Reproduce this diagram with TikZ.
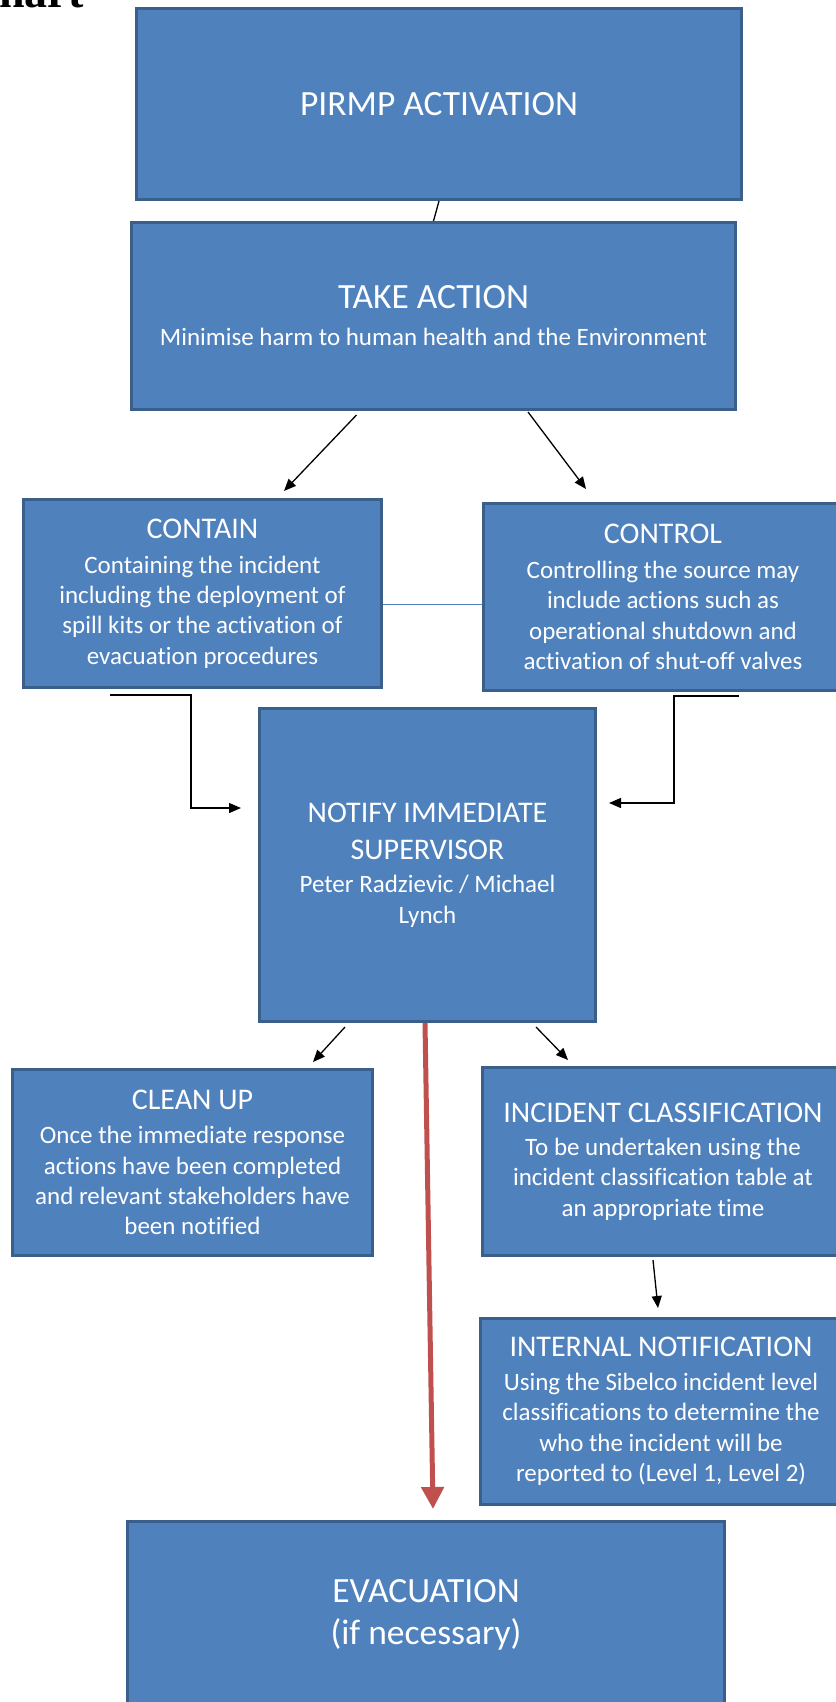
\documentclass[tikz,border=0pt]{standalone}
\usepackage{fontspec}
\setmainfont{Carlito}[Ligatures=NoCommon]
\newfontfamily\headfont{Liberation Serif}
\usepackage{xcolor}
\usetikzlibrary{arrows.meta,positioning}

\definecolor{boxfill}{HTML}{4F81BD}
\definecolor{boxline}{HTML}{3A5F8B}
\definecolor{evacred}{HTML}{C0504D}

\newcommand{\stagetitle}[1]{{\fontsize{30}{36}\selectfont #1}}
\newcommand{\bigtitle}[1]{{\fontsize{35.5}{40}\selectfont #1}}

\tikzset{
  stage/.style={draw=boxline, fill=boxfill, line width=3pt, text=white, align=center,
    inner sep=0pt, font=\fontsize{25}{30.4}\selectfont},
  flow/.style={-{Triangle[length=12pt,width=10pt]}, line width=1.3pt, black},
  redflow/.style={-{Triangle[length=22pt,width=22pt]}, line width=5pt, evacred},
  linkline/.style={line width=1.3pt, boxfill},
}

\begin{document}
\begin{tikzpicture}[x=1pt,y=-1pt]
  \useasboundingbox (0,0) rectangle (835,1702);

  % heading fragment at the top edge
  \node[anchor=base west, inner sep=0pt, font=\headfont\bfseries\fontsize{46}{46}\selectfont] (heading) at (-1,8) {hart};

  % Boxes
  \node[stage, minimum width=605pt, minimum height=191pt] (act) at (439,104) {\bigtitle{PIRMP ACTIVATION}};
  \node[stage, minimum width=604pt, minimum height=187pt] (take) at (433.5,316)
    {\bigtitle{TAKE ACTION}\\[6.6pt] Minimise harm to human health and the Environment};

  \node[stage, minimum width=358pt, minimum height=188pt] (contain) at (202.5,593.5)
    {\stagetitle{CONTAIN}\\[4.6pt] Containing the incident\\ including the deployment of\\ spill kits or the activation of\\ evacuation procedures};
  \node[stage, minimum width=359pt, minimum height=187pt] (control) at (663,597)
    {\stagetitle{CONTROL}\\[4.6pt] Controlling the source may\\ include actions such as\\ operational shutdown and\\ activation of shut-off valves};

  \node[stage, minimum width=336pt, minimum height=313pt] (notify) at (427.5,865)
    {\stagetitle{NOTIFY IMMEDIATE}\\[6.6pt] \stagetitle{SUPERVISOR}\\[3.2pt] Peter Radzievic / Michael\\ Lynch};

  \node[stage, minimum width=360pt, minimum height=186pt] (cleanup) at (192.5,1162.5)
    {\stagetitle{CLEAN UP}\\[4pt] Once the immediate response\\ actions have been completed\\ and relevant stakeholders have\\ been notified};
  \node[stage, minimum width=361pt, minimum height=188pt] (classif) at (663,1161.5)
    {\stagetitle{INCIDENT CLASSIFICATION}\\[3pt] To be undertaken using the\\ incident classification table at\\ an appropriate time};
  \node[stage, minimum width=361pt, minimum height=186pt] (internal) at (661,1411.5)
    {\stagetitle{INTERNAL NOTIFICATION}\\[3pt] Using the Sibelco incident level\\ classifications to determine the\\ who the incident will be\\ reported to (Level 1, Level 2)};

  \node[stage, minimum width=597pt, minimum height=187pt] (evac) at (426,1615)
    {\bigtitle{EVACUATION}\\[12pt] \bigtitle{(if necessary)}};

  % Connectors
  \draw[line width=1.3pt] (act.south) -- (take.north);
  \draw[flow] ([xshift=-77pt,yshift=-4pt]take.south) -- ([xshift=81.5pt,yshift=7pt]contain.north);
  \draw[flow] ([xshift=94.5pt,yshift=-1pt]take.south) -- ([xshift=-77pt,yshift=13pt]control.north);
  \draw[linkline] ([yshift=-11pt]contain.east) -- ([yshift=-11pt]contain.east -| control.west);

  \draw[flow] ([xshift=-92.5pt,yshift=-6pt]contain.south) -- ++(81,0) |- ([xshift=-17pt,yshift=57pt]notify.west);
  \draw[flow] ([xshift=76pt,yshift=-4pt]control.south) -- ++(-65,0) |- ([xshift=12pt,yshift=62pt]notify.east);

  \draw[flow] ([xshift=-82.5pt,yshift=-4pt]notify.south) -- ([xshift=120.5pt,yshift=6pt]cleanup.north);
  \draw[flow] ([xshift=108.5pt,yshift=-4pt]notify.south) -- ([xshift=-95pt,yshift=6pt]classif.north);
  \draw[redflow] ([xshift=-2.5pt]notify.south) -- ([xshift=7pt,yshift=11pt]evac.north);
  \draw[flow] ([xshift=-10pt,yshift=-3pt]classif.south) -- ([xshift=-3pt,yshift=9pt]internal.north);
\end{tikzpicture}
\end{document}
